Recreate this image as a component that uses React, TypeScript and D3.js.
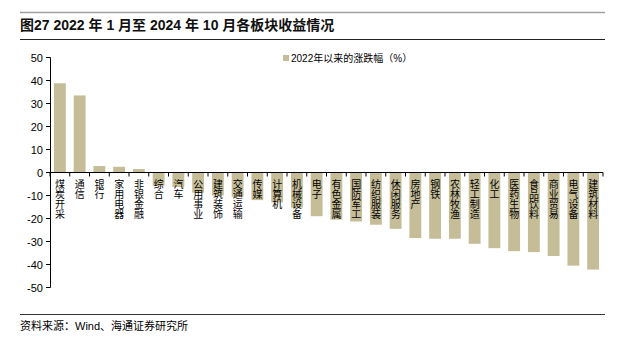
import React from "react";
import * as d3 from "d3";

const categories = ["煤炭开采","通信","银行","家用电器","非银金融","综合","汽车","公用事业","建筑装饰","交通运输","传媒","计算机","机械设备","电子","有色金属","国防军工","纺织服装","休闲服务","房地产","钢铁","农林牧渔","轻工制造","化工","医药生物","食品饮料","商业贸易","电气设备","建筑材料"];
const values = [38.8,33.5,2.8,2.5,1.5,-5.8,-6.3,-8.8,-10.0,-10.6,-12.0,-13.0,-15.3,-19.0,-20.5,-21.3,-22.7,-24.5,-28.5,-28.8,-28.8,-31.0,-32.9,-34.2,-34.6,-36.3,-40.5,-42.2];
const yTicks = [50,40,30,20,10,0,-10,-20,-30,-40,-50];
const legendLabel = "2022年以来的涨跌幅（%）";
const title = "图27 2022 年 1 月至 2024 年 10 月各板块收益情况";
const source = "资料来源：Wind、海通证券研究所";

const W = 625, H = 340;
const barColor = "#c5bd98";
const sans = "'Liberation Sans', Arial, 'Noto Sans CJK SC', sans-serif";
const cjk = "'Noto Sans CJK SC', sans-serif";

export default function App() {
  const x = d3.scaleBand<string>().domain(categories).range([50, 603]).paddingInner(0.4).paddingOuter(0.2);
  const y = d3.scaleLinear().domain([-50, 50]).range([287.5, 57.5]);
  const step = x.step();
  const y0 = y(0);
  return (
    <svg width={W} height={H} style={{ position: "absolute", left: 0, top: 0, background: "#fff" }}>
      <line x1={20} x2={605} y1={12.5} y2={12.5} stroke="#a0a0a0" strokeWidth={1.5} />
      <text x={20} y={30} fontFamily={sans} fontWeight="bold" fontSize={14} fill="#111">{title}</text>
      <line x1={20} x2={605} y1={39.5} y2={39.5} stroke="#222" strokeWidth={1} />

      {categories.map((c, i) => {
        const v = values[i];
        return (
          <rect key={c} x={x(c)} width={x.bandwidth()} y={Math.min(y(v), y0)} height={Math.abs(y(v) - y0)} fill={barColor} />
        );
      })}

      {/* y axis */}
      <line x1={50.5} x2={50.5} y1={y(50)} y2={y(-50)} stroke="#000" strokeWidth={1} />
      {yTicks.map(t => (
        <g key={t}>
          <line x1={46} x2={50.5} y1={y(t)} y2={y(t)} stroke="#000" />
          <text x={43} y={y(t) + 4} textAnchor="end" fontFamily={sans} fontSize={11} fill="#000">{t}</text>
        </g>
      ))}
      {/* x axis */}
      <line x1={50} x2={603} y1={y0} y2={y0} stroke="#000" strokeWidth={1} />
      {d3.range(categories.length + 1).map(i => (
        <line key={i} x1={50 + i * step} x2={50 + i * step} y1={y0} y2={y0 + 4} stroke="#000" />
      ))}
      {categories.map(c => {
        const cx = (x(c) as number) + x.bandwidth() / 2;
        return (
          <text key={"l" + c} x={cx} y={y0 + 7} fontFamily={cjk} fontSize={10} fill="#000"
            style={{ writingMode: "vertical-rl", textOrientation: "upright" } as any}>{c}</text>
        );
      })}

      {/* legend */}
      <rect x={283} y={55} width={6} height={6} fill={barColor} />
      <text x={291} y={61.5} fontFamily={sans} fontSize={10} fill="#000">{legendLabel}</text>

      <line x1={20} x2={605} y1={314.5} y2={314.5} stroke="#333" strokeWidth={1} />
      <text x={20} y={330} fontFamily={sans} fontSize={11} fill="#000">{source}</text>
    </svg>
  );
}
